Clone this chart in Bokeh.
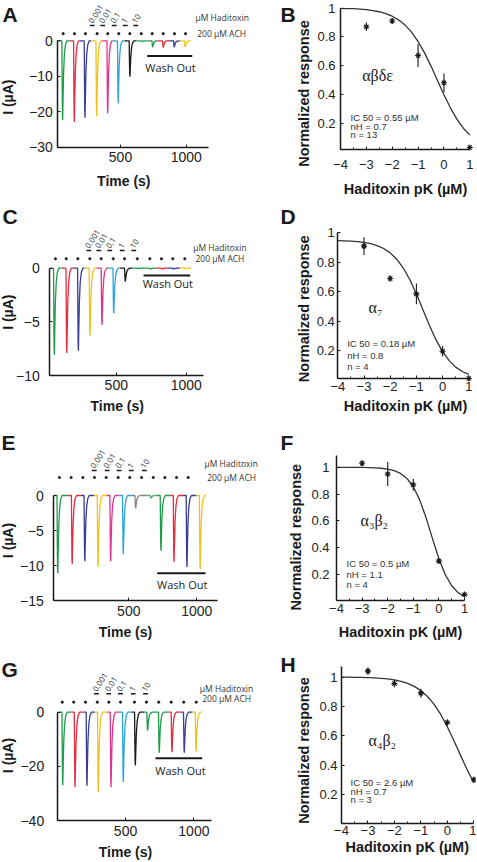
import math
from bokeh.plotting import figure
from bokeh.models import Range1d, FixedTicker, Label
from bokeh.layouts import column, row
from bokeh.embed import file_html
from bokeh.resources import INLINE

# ---------------- data ----------------
sweep_colors = ["#1e9c4a", "#e62c40", "#383d95", "#f3c21a", "#e1338e", "#2ba3dc",
                "#1a1a1a", "#1e9c4a", "#1e9c4a", "#e62c40", "#383d95", "#f3c21a"]
sweep_colors_E = ["#1e9c4a", "#e62c40", "#383d95", "#f3c21a", "#e1338e", "#2ba3dc",
                  "#858585", "#5aa86a", "#1e9c4a", "#e62c40", "#383d95", "#f3c21a"]
conc_labels = ["0.001", "0.01", "0.1", "1", "10"]
time_ticks = [500, 1000]

# panel A  (alpha beta delta epsilon)
A_spike_t = [56, 145, 226, 315, 399, 479, 568, 658, 741, 822, 906, 989]
A_peak = [-22.3, -22.9, -21.7, -21.3, -20.4, -17.6, -10.1, -0.2, -1.8, -1.9, -1.8, -1.8]
A_dot_t = [64, 150, 233, 322, 403, 487, 571, 658, 741, 825, 911, 995]
A_dot_y = 2.0
A_conc_t = [285, 365, 452, 536, 616]
A_conc_y = 4.3
A_wash_t = [703, 1046]
A_wash_y = -4.3
A_yticks = [0, -10, -20, -30]

# panel C  (alpha7)
C_spike_t = [53, 142, 225, 308, 394, 478, 561, 650, 740, 823, 904, 990]
C_peak = [-8.07, -7.9, -7.7, -6.3, -5.3, -4.2, -1.24, -0.05, -0.08, -0.08, -0.08, -0.08]
C_dot_t = [65, 142, 225, 311, 392, 478, 559, 650, 740, 823, 904, 990]
C_dot_y = 0.88
C_conc_t = [303, 375, 453, 542, 625]
C_conc_y = 1.65
C_wash_t = [695, 1029]
C_wash_y = -0.68
C_yticks = [0, -5, -10]

# panel E  (alpha3 beta2)
E_spike_t = [-26, 80, 173, 270, 363, 456, 547, 660, 733, 829, 924, 1021]
E_peak = [-11.1, -9.8, -9.4, -10.2, -9.4, -8.4, -1.8, -0.4, -7.9, -9.5, -10.2, -10.5]
E_dot_t = [-10, 76, 162, 248, 334, 422, 507, 594, 680, 765, 851, 937]
E_dot_y = 2.57
E_conc_t = [246, 341, 429, 518, 615]
E_conc_y = 3.57
E_wash_t = [709, 1064]
E_wash_y = -11.1
E_yticks = [0, -5, -10, -15]

# panel G  (alpha4 beta2)
G_spike_t = [37, 127, 214, 297, 390, 480, 568, 658, 743, 836, 926, 1012]
G_peak = [-27.0, -27.7, -27.2, -29.5, -27.7, -25.8, -19.7, -6.8, -15.0, -14.8, -15.0, -14.5]
G_dot_t = [37, 121, 207, 293, 378, 463, 565, 653, 743, 834, 926, 1017]
G_dot_y = 3.7
G_conc_t = [287, 377, 463, 556, 646]
G_conc_y = 6.8
G_wash_t = [719, 1061]
G_wash_y = -17.0
G_yticks = [0, -20, -40]

# dose-response panels
pk_conc = [-3, -2, -1, 0, 1]
pk_ticks = [-4, -3, -2, -1, 0, 1]
resp_ticks = [0.2, 0.4, 0.6, 0.8, 1.0]
B_resp = [0.87, 0.91, 0.67, 0.48, 0.03]
B_err = [0.03, 0.02, 0.08, 0.065, 0.01]
D_resp = [0.91, 0.69, 0.585, 0.195, 0.01]
D_err = [0.06, 0.02, 0.07, 0.035, 0.005]
F_resp = [1.03, 0.95, 0.87, 0.30, 0.05]
F_err = [0.02, 0.09, 0.045, 0.02, 0.01]
H_resp = [1.04, 0.955, 0.89, 0.69, 0.30]
H_err = [0.025, 0.025, 0.03, 0.02, 0.02]

fit_pk = [-4, -3.75, -3.5, -3.25, -3, -2.75, -2.5, -2.25, -2, -1.75, -1.5,
          -1.25, -1, -0.75, -0.5, -0.25, 0, 0.25, 0.5, 0.75, 1]
B_fit = [0.998, 0.996, 0.995, 0.992, 0.988, 0.982, 0.974, 0.961, 0.943, 0.917, 0.881,
         0.832, 0.767, 0.688, 0.596, 0.496, 0.397, 0.306, 0.227, 0.164, 0.116]
D_fit = [0.948, 0.946, 0.944, 0.941, 0.935, 0.927, 0.914, 0.894, 0.864, 0.821, 0.761,
         0.681, 0.585, 0.477, 0.370, 0.272, 0.192, 0.131, 0.087, 0.057, 0.037]
F_fit = [1.000, 1.000, 1.000, 0.999, 0.999, 0.998, 0.996, 0.993, 0.987, 0.975, 0.954,
         0.917, 0.855, 0.757, 0.623, 0.468, 0.318, 0.199, 0.116, 0.065, 0.036]
H_fit = [0.999, 0.999, 0.998, 0.997, 0.996, 0.994, 0.991, 0.987, 0.980, 0.970, 0.956,
         0.936, 0.907, 0.867, 0.814, 0.745, 0.661, 0.566, 0.466, 0.368, 0.280]

B_stats = ["IC 50 = 0.55 \u00b5M", "nH = 0.7", "n = 13"]
D_stats = ["IC 50 = 0.18 \u00b5M", "nH = 0.8", "n = 4"]
F_stats = ["IC 50 = 0.5 \u00b5M", "nH = 1.1", "n = 4"]
H_stats = ["IC 50 = 2.6 \u00b5M", "nH = 0.7", "n = 3"]

# ---------------- layout / style ----------------
WL, WR = 268, 208
ROW_TOP = [0, 202, 430, 645]
ROW_H = [202, 228, 215, 215]
FONT = "Liberation Sans"
ANN = "Open Sans"
GREEK = "Liberation Serif"
INK = "#1a1a1a"

# relative spike shape (seconds after onset, fraction of peak)
spike_dt = [-2, 0, 2, 4, 7, 11, 17, 25, 36]
spike_frac = [0, 0.5, 0.92, 1.0, 0.72, 0.4, 0.17, 0.05, 0]


def sweeps(spike_t, peaks, t_first, lead, tail):
    xs, ys = [], []
    n = len(spike_t)
    for i in range(n):
        start = t_first if i == 0 else spike_t[i] - lead
        end = spike_t[i + 1] - lead if i < n - 1 else spike_t[i] + tail
        xs.append([start] + [spike_t[i] + d for d in spike_dt] + [end])
        ys.append([0.0] + [peaks[i] * f for f in spike_frac] + [0.0])
    return xs, ys


def base_fig(W, H, xr, yr):
    p = figure(width=W, height=H, x_range=Range1d(*xr), y_range=Range1d(*yr),
               output_backend="svg", toolbar_location=None, tools="", min_border=0)
    p.title.visible = False
    p.min_border_left = 0
    p.min_border_right = 0
    p.min_border_top = 0
    p.min_border_bottom = 0
    p.grid.visible = False
    p.outline_line_color = None
    p.background_fill_color = "white"
    p.border_fill_color = "white"
    return p


def style_axis(ax, ticks, bounds, loc, fs, standoff, minor=None, overrides=None):
    ax.ticker = FixedTicker(ticks=ticks, minor_ticks=minor or [])
    ax.bounds = bounds
    ax.fixed_location = loc
    ax.axis_line_width = 1.5
    ax.axis_line_color = INK
    ax.major_tick_line_color = INK
    ax.minor_tick_line_color = INK
    ax.major_tick_in = 3
    ax.major_tick_out = 0
    ax.minor_tick_in = 2
    ax.minor_tick_out = 0
    ax.major_label_text_font = FONT
    ax.major_label_text_font_size = fs
    ax.major_label_text_color = "#222222"
    ax.major_label_standoff = standoff
    if overrides:
        ax.major_label_overrides = overrides


def lab(p, x, y, text, size, font=FONT, bold=False, align="left", base="middle",
        angle=0.0, color=INK):
    p.add_layout(Label(x=x, y=y, text=text, text_font=font, text_font_size=size,
                       text_font_style="bold" if bold else "normal",
                       text_align=align, text_baseline=base, angle=angle,
                       text_color=color))


def left_panel(r, s):
    top, H = ROW_TOP[r], ROW_H[r]
    pps, ppu = s["pps"], s["ppu"]
    fx = lambda px: (px - s["t0_ref"]) / pps
    fy = lambda py: -(py - s["y0_ref"]) / ppu
    x_axis = fx(s["axis_px"])
    p = base_fig(WL, H, (fx(0), fx(WL)), (fy(top + H), fy(top)))
    style_axis(p.xaxis[0], time_ticks, (x_axis, s["xend"]), s["ymin"], "14px", s["xst"])
    style_axis(p.yaxis[0], s["yticks"], (s["ymin"], 0), x_axis, "14px", s["yst"])

    xs, ys = sweeps(s["spike_t"], s["peak"], x_axis, s["lead"], 45)
    p.multi_line(xs, ys, line_color=s["colors"], line_width=1.3)
    p.scatter(s["dot_t"], [s["dot_y"]] * len(s["dot_t"]), size=2.2, marker="circle",
              color=INK)
    h = 2.4 / pps
    p.segment([t - h for t in s["conc_t"]], [s["conc_y"]] * 5,
              [t + h for t in s["conc_t"]], [s["conc_y"]] * 5, line_width=1.6, color=INK)
    for t, txt in zip(s["conc_t"], conc_labels):
        lab(p, t + 0.5 / pps, s["conc_y"] + 1.5 / ppu, txt, "8px", font=ANN,
            base="bottom", angle=math.radians(57), color="#333333")
    p.segment([s["wash_t"][0]], [s["wash_y"]], [s["wash_t"][1]], [s["wash_y"]],
              line_width=2, color=INK)
    lab(p, fx(s["wash_txt"][0]), fy(s["wash_txt"][1]), "Wash Out", "11px", font=ANN,
        align="center", color="#222222")
    lab(p, fx(s["had"][0]), fy(s["had"][1]), "\u00b5M Haditoxin", "8.5px", font=ANN,
        color="#333333")
    lab(p, fx(s["ach"][0]), fy(s["ach"][1]), "200 \u00b5M ACH", "8.5px", font=ANN,
        color="#333333")
    lab(p, fx(s["time"][0]), fy(s["time"][1]), "Time (s)", "14px", bold=True,
        align="center")
    lab(p, fx(7.5), fy(s["ylab_y"]), "I (\u00b5A)", "14px", bold=True, align="center",
        angle=math.pi / 2)
    lab(p, fx(s["letter_pos"][0]), fy(s["letter_pos"][1] - 3), s["letter"], "21px",
        bold=True, base="top")
    return p


def right_panel(r, s):
    top, H = ROW_TOP[r], ROW_H[r]
    ppx = s["ppx"]
    ppu = (s["axis_py"] - s["y1_ref"]) / (1.0 - s["ymin"])
    fx = lambda px: -4 + (px - s["axis_px"]) / ppx
    fy = lambda py: 1.0 - (py - s["y1_ref"]) / ppu
    p = base_fig(WR, H, (fx(WL), fx(WL + WR)), (fy(top + H), fy(top)))
    style_axis(p.xaxis[0], pk_ticks, (-4, 1), s["ymin"], "13px", s["xst"],
               minor=[-3.5, -2.5, -1.5, -0.5, 0.5])
    style_axis(p.yaxis[0], resp_ticks, (s["ymin"], s["ytop"]), -4, "13px", s["yst"],
               overrides={0.2: "0.2", 0.4: "0.4", 0.6: "0.6", 0.8: "0.8", 1.0: "1"})

    p.line(fit_pk, s["fit"], line_color="#333333", line_width=1.3)
    lo = [v - e for v, e in zip(s["resp"], s["err"])]
    hi = [v + e for v, e in zip(s["resp"], s["err"])]
    p.segment(pk_conc, lo, pk_conc, hi, line_width=1.1, color=INK)
    p.scatter(pk_conc, s["resp"], marker="asterisk", size=6, line_color=INK,
              line_width=1.1)

    lab(p, fx(s["greek"][0]), fy(s["greek"][1]), s["greek_txt"], "16px", font=GREEK)
    for py, txt in zip(s["stats_y"], s["stats"]):
        lab(p, fx(s["stats_x"]), fy(py), txt, "9.5px", color="#333333")
    lab(p, fx(s["xlab"][0]), fy(s["xlab"][1]), "Haditoxin pK (\u00b5M)", "14.5px",
        bold=True, align="center")
    lab(p, fx(s["ylab"][0]), fy(s["ylab"][1]), "Normalized response", "14.5px",
        bold=True, align="center", angle=math.pi / 2)
    lab(p, fx(280), fy(s["letter_top"] - 3), s["letter"], "21px", bold=True, base="top")
    return p


pA = left_panel(0, dict(letter="A", letter_pos=(2, 5), axis_px=57.3, ymin=-30,
                        y0_ref=40.3, ppu=3.547, t0_ref=54.3, pps=0.1314, xend=1172,
                        xst=5, yst=5, yticks=A_yticks, spike_t=A_spike_t, peak=A_peak,
                        colors=sweep_colors, lead=38, dot_t=A_dot_t, dot_y=A_dot_y,
                        conc_t=A_conc_t, conc_y=A_conc_y, wash_t=A_wash_t,
                        wash_y=A_wash_y, wash_txt=(170, 67), had=(195, 17.3),
                        ach=(196.7, 33.3), time=(123.3, 180), ylab_y=96.7))
pC = left_panel(1, dict(letter="C", letter_pos=(2, 207), axis_px=49.3, ymin=-10,
                        y0_ref=267.7, ppu=10.73, t0_ref=45.9, pps=0.1398, xend=1126,
                        xst=4, yst=10, yticks=C_yticks, spike_t=C_spike_t, peak=C_peak,
                        colors=sweep_colors, lead=35, dot_t=C_dot_t, dot_y=C_dot_y,
                        conc_t=C_conc_t, conc_y=C_conc_y, wash_t=C_wash_t,
                        wash_y=C_wash_y, wash_txt=(167.3, 282.7), had=(192.7, 246.7),
                        ach=(195, 258.3), time=(116.7, 405.7), ylab_y=311.7))
pE = left_panel(2, dict(letter="E", letter_pos=(1, 433), axis_px=53.3, ymin=-15,
                        y0_ref=495, ppu=7.0, t0_ref=60.3, pps=0.136, xend=1150,
                        xst=5, yst=10, yticks=E_yticks, spike_t=E_spike_t, peak=E_peak,
                        colors=sweep_colors_E, lead=25, dot_t=E_dot_t, dot_y=E_dot_y,
                        conc_t=E_conc_t, conc_y=E_conc_y, wash_t=E_wash_t,
                        wash_y=E_wash_y, wash_txt=(181.7, 584), had=(204, 462.5),
                        ach=(206.7, 477), time=(125, 631.7), ylab_y=540))
pG = left_panel(3, dict(letter="G", letter_pos=(1, 660), axis_px=56.7, ymin=-40,
                        y0_ref=711.7, ppu=2.7075, t0_ref=56.7, pps=0.1367, xend=1127,
                        xst=5, yst=13, yticks=G_yticks, spike_t=G_spike_t, peak=G_peak,
                        colors=sweep_colors, lead=22, dot_t=G_dot_t, dot_y=G_dot_y,
                        conc_t=G_conc_t, conc_y=G_conc_y, wash_t=G_wash_t,
                        wash_y=G_wash_y, wash_txt=(180, 770), had=(199.3, 687.7),
                        ach=(201.7, 698.3), time=(125, 851.5), ylab_y=755))

pB = right_panel(0, dict(letter="B", letter_top=5, axis_px=340, ppx=25.86, y1_ref=7.5,
                         axis_py=149.3, ymin=0.014, ytop=1.0, xst=10, yst=5, fit=B_fit,
                         resp=B_resp, err=B_err, greek=(361.7, 75),
                         greek_txt="\u03b1\u03b2\u03b4\u03b5", stats=B_stats,
                         stats_x=350, stats_y=[117.3, 126, 134.3], xlab=(405, 188),
                         ylab=(303, 93)))
pD = right_panel(1, dict(letter="D", letter_top=207, axis_px=337.3, ppx=26.2,
                         y1_ref=232.4, axis_py=378.3, ymin=0.0075, ytop=1.0, xst=3,
                         yst=3, fit=D_fit, resp=D_resp, err=D_err, greek=(368, 306.7),
                         greek_txt="\u03b1\u2087", stats=D_stats, stats_x=346.7,
                         stats_y=[343.3, 355, 365.7], xlab=(405, 405),
                         ylab=(303.3, 308.3)))
pF = right_panel(2, dict(letter="F", letter_top=433, axis_px=336, ppx=25.6,
                         y1_ref=466.8, axis_py=600, ymin=0.006, ytop=1.09, xst=3,
                         yst=7, fit=F_fit, resp=F_resp, err=F_err, greek=(360, 520),
                         greek_txt="\u03b1\u2083\u03b2\u2082", stats=F_stats,
                         stats_x=346, stats_y=[562.7, 574, 584], xlab=(400, 631.7),
                         ylab=(295, 536.7)))
pH = right_panel(3, dict(letter="H", letter_top=655, axis_px=341, ppx=26.46,
                         y1_ref=676.5, axis_py=823.3, ymin=0.0, ytop=1.07, xst=2,
                         yst=4, fit=H_fit, resp=H_resp, err=H_err, greek=(368, 740),
                         greek_txt="\u03b1\u2084\u03b2\u2082", stats=H_stats,
                         stats_x=350, stats_y=[782.3, 790.7, 799], xlab=(406.7, 846.7),
                         ylab=(303.3, 750)))

layout = column(row(pA, pB), row(pC, pD), row(pE, pF), row(pG, pH))
open("out.html", "w").write(file_html(layout, INLINE))
